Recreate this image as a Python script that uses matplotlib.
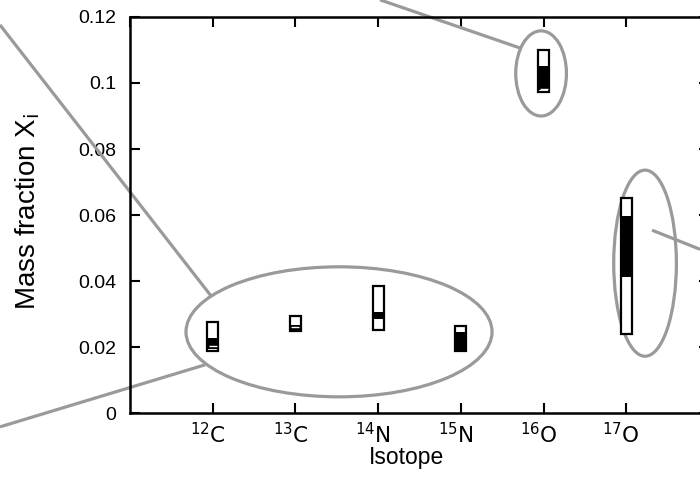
import numpy as np
import matplotlib.pyplot as plt
import matplotlib.transforms as mtransforms
from matplotlib.patches import Rectangle, Ellipse

plt.rcParams['font.family'] = ['Liberation Sans Narrow', 'Liberation Sans', 'DejaVu Sans']
plt.rcParams['mathtext.fontset'] = 'custom'
plt.rcParams['mathtext.rm'] = 'Liberation Sans Narrow'
plt.rcParams['mathtext.it'] = 'Liberation Sans Narrow:italic'

# isotopes and the ranges of the mass fractions
isotopes = [r'$^{12}\mathrm{C}$', r'$^{13}\mathrm{C}$', r'$^{14}\mathrm{N}$',
            r'$^{15}\mathrm{N}$', r'$^{16}\mathrm{O}$', r'$^{17}\mathrm{O}$']
xpos = [1, 2, 3, 4, 5, 6]
outer_lo = [0.0188, 0.0247, 0.0252, 0.0189, 0.0974, 0.0238]
outer_hi = [0.0277, 0.0294, 0.0385, 0.0265, 0.1100, 0.0651]
black_lo = [0.0194, 0.0250, 0.0286, 0.0191, 0.0979, 0.0413]
black_hi = [0.0226, 0.0267, 0.0305, 0.0245, 0.1052, 0.0597]
white_line = [0.0202, 0.0261, None, None, 0.0982, None]

yticks = [0, 0.02, 0.04, 0.06, 0.08, 0.1, 0.12]
yticklabels = ['0', '0.02', '0.04', '0.06', '0.08', '0.1', '0.12']

# zoom ellipses (centre x, centre y, width, height) in data units
ellipses = [(2.527, 0.0246, 3.70, 0.0394),
            (4.970, 0.1029, 0.613, 0.0258),
            (6.227, 0.0454, 0.758, 0.0564)]
# connector lines (x0, y0, x1, y1) in data units
connectors = [(-1.572, 0.1176, 0.979, 0.0355),
              (-1.572, -0.0042, 0.907, 0.0146),
              (3.023, 0.1252, 4.716, 0.1106),
              (6.312, 0.0554, 6.892, 0.0496)]

fig = plt.figure(figsize=(7, 4.9), dpi=100)
ax = fig.add_axes([130/700, 77/490, 579/700, 396/490])
ax.set_xlim(0, 7)
ax.set_ylim(0, 0.12)

w = 0.135
for i in range(len(xpos)):
    ax.add_patch(Rectangle((xpos[i]-w/2, outer_lo[i]), w, outer_hi[i]-outer_lo[i],
                           facecolor='white', edgecolor='black', lw=1.6, zorder=3))
    ax.add_patch(Rectangle((xpos[i]-w/2, black_lo[i]), w, black_hi[i]-black_lo[i],
                           facecolor='black', edgecolor='black', lw=0, zorder=4))
    if white_line[i] is not None:
        ax.plot([xpos[i]-w/2+0.02, xpos[i]+w/2-0.02], [white_line[i]]*2,
                color='white', lw=1.0, zorder=5, solid_capstyle='butt')

grey = '#9a9a9a'
for cx, cy, ew, eh in ellipses:
    ax.add_patch(Ellipse((cx, cy), ew, eh, fill=False, edgecolor=grey,
                         lw=2.3, zorder=2, clip_on=False))
for x0, y0, x1, y1 in connectors:
    ax.plot([x0, x1], [y0, y1], color=grey, lw=2.3, zorder=2, clip_on=False,
            solid_capstyle='butt')

ax.set_xticks(xpos)
ax.set_xticklabels(isotopes, fontsize=15.5)
ax.set_yticks(yticks)
ax.set_yticklabels(yticklabels, fontsize=14)
ax.tick_params(direction='in', length=7, width=1.5, top=True, right=True)
ax.tick_params(axis='y', pad=10)
ax.tick_params(axis='x', pad=7)
ax.set_xticks(range(0, 8), minor=True)
ax.tick_params(which='minor', top=True, bottom=False, direction='in',
               length=7, width=1.5)
for s in ax.spines.values():
    s.set_linewidth(1.8)

# shift the isotope labels a little to the left, as in the original
shift = mtransforms.ScaledTranslation(-5/100, 0, fig.dpi_scale_trans)
for lab in ax.get_xticklabels():
    lab.set_transform(lab.get_transform() + shift)

ax.set_xlabel('Isotope', fontsize=16.5)
ax.xaxis.set_label_coords(0.477, -0.113, transform=ax.transAxes)
ax.xaxis.label.set_va('center')
ax.set_ylabel(r'Mass fraction X$_{\mathrm{i}}$', fontsize=20,
              family=['Liberation Sans', 'DejaVu Sans'])
ax.yaxis.set_label_coords(-0.177, 0.51, transform=ax.transAxes)
ax.yaxis.label.set_va('center')

fig.savefig('out.png', dpi=100)
